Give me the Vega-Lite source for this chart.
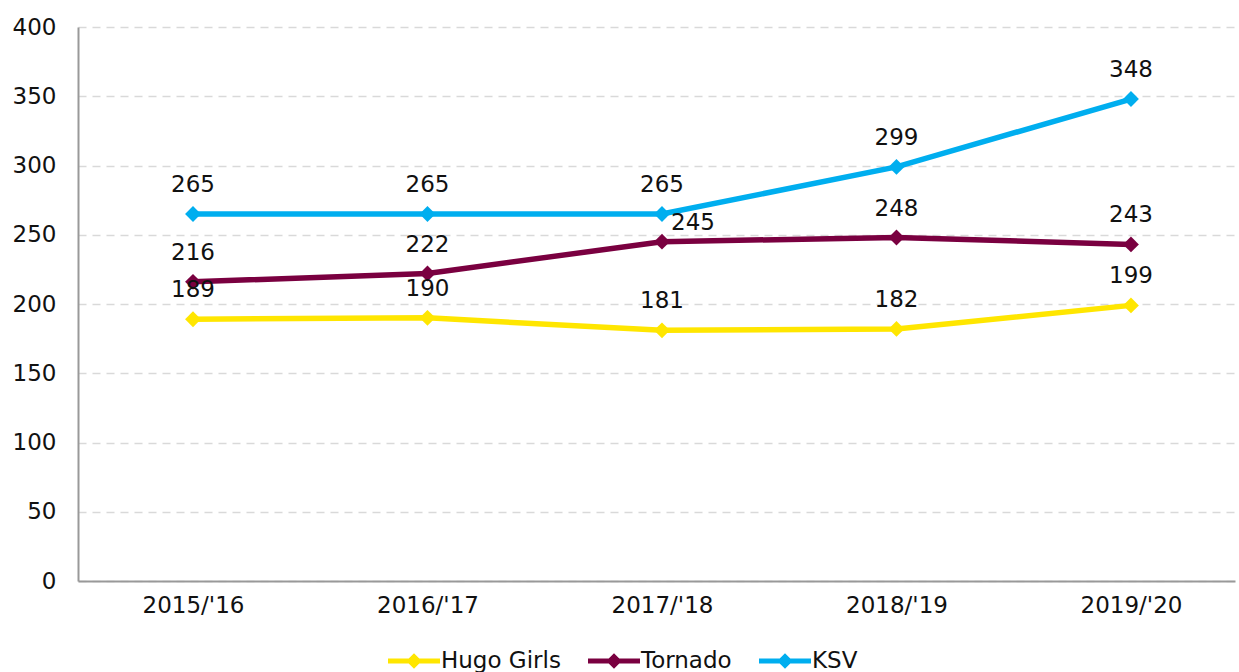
{
  "$schema": "https://vega.github.io/schema/vega-lite/v6.json",
  "width": 1157,
  "height": 554,
  "autosize": {"type": "none"},
  "padding": {"left": 78, "top": 27, "right": 4, "bottom": 91},
  "background": "white",
  "config": {
    "view": {"stroke": null},
    "font": "DejaVu Sans",
    "text": {"font": "DejaVu Sans"}
  },
  "data": {
    "values": [
      {"season": "2015/'16", "team": "Hugo Girls", "value": 189},
      {"season": "2016/'17", "team": "Hugo Girls", "value": 190},
      {"season": "2017/'18", "team": "Hugo Girls", "value": 181},
      {"season": "2018/'19", "team": "Hugo Girls", "value": 182},
      {"season": "2019/'20", "team": "Hugo Girls", "value": 199},
      {"season": "2015/'16", "team": "Tornado", "value": 216},
      {"season": "2016/'17", "team": "Tornado", "value": 222},
      {"season": "2017/'18", "team": "Tornado", "value": 245},
      {"season": "2018/'19", "team": "Tornado", "value": 248},
      {"season": "2019/'20", "team": "Tornado", "value": 243},
      {"season": "2015/'16", "team": "KSV", "value": 265},
      {"season": "2016/'17", "team": "KSV", "value": 265},
      {"season": "2017/'18", "team": "KSV", "value": 265},
      {"season": "2018/'19", "team": "KSV", "value": 299},
      {"season": "2019/'20", "team": "KSV", "value": 348}
    ]
  },
  "encoding": {
    "x": {
      "field": "season",
      "type": "ordinal",
      "sort": null,
      "scale": {"type": "point", "padding": 0.467, "align": 0.525},
      "axis": {
        "title": null,
        "labelAngle": 0,
        "labelFontSize": 23,
        "labelColor": "#111111",
        "labelPadding": 13,
        "ticks": false,
        "domainColor": "#999999",
        "domainWidth": 2,
        "grid": false
      }
    },
    "y": {
      "field": "value",
      "type": "quantitative",
      "scale": {"domain": [0, 400], "nice": false},
      "axis": {
        "title": null,
        "values": [0, 50, 100, 150, 200, 250, 300, 350, 400],
        "labelFontSize": 23,
        "labelColor": "#111111",
        "labelPadding": 22,
        "ticks": false,
        "domainColor": "#999999",
        "domainWidth": 2,
        "grid": true,
        "gridColor": "#d9d9d9",
        "gridWidth": 1.5,
        "gridDash": [8, 6]
      }
    },
    "color": {
      "field": "team",
      "type": "nominal",
      "scale": {
        "domain": ["Hugo Girls", "Tornado", "KSV"],
        "range": ["#FFE600", "#7A0040", "#00AEEF"]
      },
      "legend": {
        "title": null,
        "orient": "none",
        "direction": "horizontal",
        "legendX": 310,
        "legendY": 608,
        "symbolType": "M-1,-0.1H1V0.1H-1Z M0,-0.3L0.3,0L0,0.3L-0.3,0Z",
        "symbolSize": 2704,
        "symbolStrokeWidth": 0,
        "symbolOpacity": 1,
        "labelFontSize": 23,
        "labelColor": "#111111",
        "labelOffset": 1,
        "columnPadding": 27,
        "encode": {
          "symbols": {
            "update": {
              "fill": {"scale": "color", "field": "value"},
              "strokeWidth": {"value": 0},
              "opacity": {"value": 1}
            }
          }
        }
      }
    }
  },
  "layer": [
    {
      "mark": {
        "type": "line",
        "strokeWidth": 5.5,
        "point": {"filled": true, "shape": "diamond", "size": 250, "opacity": 1}
      }
    },
    {
      "transform": [{"filter": "!(datum.team === 'Tornado' && datum.season === \"2017/'18\")"}],
      "mark": {"type": "text", "dy": -29, "fontSize": 23, "color": "#111111", "baseline": "middle"},
      "encoding": {"text": {"field": "value", "type": "quantitative"}, "color": {"value": "#111111"}}
    },
    {
      "transform": [{"filter": "datum.team === 'Tornado' && datum.season === \"2017/'18\""}],
      "mark": {"type": "text", "dy": -19, "dx": 31, "fontSize": 23, "color": "#111111", "baseline": "middle"},
      "encoding": {"text": {"field": "value", "type": "quantitative"}, "color": {"value": "#111111"}}
    }
  ]
}
